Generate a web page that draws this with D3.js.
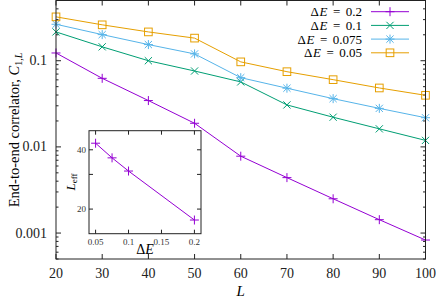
<!DOCTYPE html>
<html>
<head>
<meta charset="utf-8">
<script src="https://cdn.jsdelivr.net/npm/d3@7"></script>
<style>
  body { margin: 0; background: #fff; }
  svg { display: block; font-family: "Liberation Serif", "DejaVu Serif", serif; }
</style>
</head>
<body>
<svg id="canvas" width="436" height="298"></svg>
<script>
let sizes = [20, 30, 40, 50, 60, 70, 80, 90, 100]

let dE02 = [0.123, 0.0625, 0.0345, 0.0188, 0.0078, 0.0044, 0.0025, 0.00143, 0.00083]
let dE01 = [0.216, 0.145, 0.100, 0.076, 0.0568, 0.0307, 0.0221, 0.0162, 0.0119]
let dE0075 = [0.265, 0.201, 0.154, 0.120, 0.0636, 0.048, 0.0363, 0.028, 0.0218]
let dE005 = [0.323, 0.261, 0.216, 0.183, 0.097, 0.0746, 0.0603, 0.0483, 0.0397]

let seriesNames = ['0.2', '0.1', '0.075', '0.05']
let seriesColors = ['#9400d3', '#009e73', '#56b4e9', '#e69f00']
let seriesMarks = ['plus', 'cross', 'star', 'square']
let seriesValues = [dE02, dE01, dE0075, dE005]

let yTicks = [0.001, 0.01, 0.1]
let yTickLabels = ['0.001', '0.01', '0.1']

// inset
let insetDE = [0.05, 0.075, 0.1, 0.2]
let insetLeff = [43.2, 36.4, 31.2, 17.6]
let insetXTicks = [0.05, 0.1, 0.15, 0.2]
let insetXLabels = ['0.05', '0.1', '0.15', '0.2']
let insetYTicks = [20, 30, 40]
let insetYLabels = ['20', '', '40']

let svg = d3.select('#canvas')

let x = d3.scaleLinear().domain([20, 100]).range([56, 425.5])
let y = d3.scaleLog().domain([0.0005, 0.5]).range([259, 0.5])

let drawMarker = (g, type, cx, cy, color, s) => {
    let p = g.append('g').attr('transform', 'translate(' + cx + ',' + cy + ')')
        .attr('stroke', color).attr('stroke-width', 1).attr('fill', 'none')
    if (type === 'plus' || type === 'star') {
        p.append('line').attr('x1', -s).attr('x2', s).attr('y1', 0).attr('y2', 0)
        p.append('line').attr('x1', 0).attr('x2', 0).attr('y1', -s).attr('y2', s)
    }
    if (type === 'cross' || type === 'star') {
        let d = s * 0.8
        p.append('line').attr('x1', -d).attr('x2', d).attr('y1', -d).attr('y2', d)
        p.append('line').attr('x1', -d).attr('x2', d).attr('y1', d).attr('y2', -d)
    }
    if (type === 'square') {
        p.append('rect').attr('x', -s * 0.85).attr('y', -s * 0.85)
            .attr('width', s * 1.7).attr('height', s * 1.7)
    }
}

// ticks of main plot (mirrored, inward)
let frame = svg.append('g').attr('stroke', '#222').attr('stroke-width', 1)
sizes.forEach((v) => {
    frame.append('line').attr('x1', x(v)).attr('x2', x(v)).attr('y1', 259).attr('y2', 254)
    frame.append('line').attr('x1', x(v)).attr('x2', x(v)).attr('y1', 0.5).attr('y2', 5.5)
})
let minor = []
for (let e = -4; e <= -1; e++) {
    for (let m = 1; m <= 9; m++) {
        let v = m * Math.pow(10, e)
        if (v >= 0.0005 && v <= 0.5) minor.push({ v: v, major: m === 1 })
    }
}
minor.forEach((t) => {
    let len = t.major ? 5 : 2.5
    frame.append('line').attr('x1', 56).attr('x2', 56 + len).attr('y1', y(t.v)).attr('y2', y(t.v))
    frame.append('line').attr('x1', 425.5).attr('x2', 425.5 - len).attr('y1', y(t.v)).attr('y2', y(t.v))
})

// data lines
seriesValues.forEach((vals, i) => {
    let line = d3.line().x((d, j) => x(sizes[j])).y((d) => y(d))
    svg.append('path').datum(vals).attr('d', line)
        .attr('fill', 'none').attr('stroke', seriesColors[i]).attr('stroke-width', 1)
    let g = svg.append('g')
    vals.forEach((v, j) => drawMarker(g, seriesMarks[i], x(sizes[j]), y(v), seriesColors[i], 4.5))
})

svg.append('rect').attr('x', 56).attr('y', 0.5).attr('width', 369.5).attr('height', 258.5)
    .attr('fill', 'none').attr('stroke', '#222').attr('stroke-width', 1)

// tick labels
svg.selectAll('.xl').data(sizes).enter().append('text')
    .attr('x', (d) => x(d)).attr('y', 278).attr('text-anchor', 'middle')
    .attr('font-size', 14).attr('fill', '#222').text((d) => d)
svg.selectAll('.yl').data(yTicks).enter().append('text')
    .attr('x', 47).attr('y', (d) => y(d) + 4.5).attr('text-anchor', 'end')
    .attr('font-size', 14).attr('fill', '#222').text((d, i) => yTickLabels[i])

svg.append('text').attr('x', x(60)).attr('y', 296).attr('text-anchor', 'middle')
    .attr('font-size', 15).attr('font-style', 'italic').text('L')

let yl = svg.append('text').attr('transform', 'translate(19,130) rotate(-90)')
    .attr('text-anchor', 'middle').attr('font-size', 14.5)
yl.append('tspan').text('End-to-end correlator, ')
yl.append('tspan').attr('font-style', 'italic').text('C')
yl.append('tspan').attr('font-size', 10).attr('dy', 3).text('1,')
yl.append('tspan').attr('font-size', 10).attr('font-style', 'italic').text('L')

// legend: pieces placed right to left so nothing overlaps
seriesNames.forEach((n, i) => {
    let ly = 11.7 + i * 13.7
    let fs = 13
    let right = 362
    let num = svg.append('text').attr('x', right).attr('y', ly + 4.5)
        .attr('text-anchor', 'end').attr('font-size', fs).text(n)
    right -= num.node().getComputedTextLength() + 5.5
    let eq = svg.append('text').attr('x', right).attr('y', ly + 4.5)
        .attr('text-anchor', 'end').attr('font-size', fs).text('=')
    right -= eq.node().getComputedTextLength() + 5.5
    let e = svg.append('text').attr('x', right).attr('y', ly + 4.5)
        .attr('text-anchor', 'end').attr('font-size', fs).attr('font-style', 'italic').text('E')
    right -= e.node().getComputedTextLength() + 0.5
    svg.append('text').attr('x', right).attr('y', ly + 4.5)
        .attr('text-anchor', 'end').attr('font-size', fs).text('Δ')
    svg.append('line').attr('x1', 371).attr('x2', 409).attr('y1', ly).attr('y2', ly)
        .attr('stroke', seriesColors[i]).attr('stroke-width', 1)
    drawMarker(svg, seriesMarks[i], 390, ly, seriesColors[i], 4.5)
})

// inset
let ix = d3.scaleLinear().domain([0.04, 0.21]).range([89, 201])
let iy = d3.scaleLog().domain([15, 50]).range([233.7, 130.7])

svg.append('rect').attr('x', 89).attr('y', 130.7).attr('width', 112).attr('height', 103)
    .attr('fill', '#fff').attr('stroke', 'none')

let iframe = svg.append('g').attr('stroke', '#222').attr('stroke-width', 1)
insetXTicks.forEach((v) => {
    iframe.append('line').attr('x1', ix(v)).attr('x2', ix(v)).attr('y1', 233.7).attr('y2', 229.7)
    iframe.append('line').attr('x1', ix(v)).attr('x2', ix(v)).attr('y1', 130.7).attr('y2', 134.7)
})
insetYTicks.forEach((v) => {
    iframe.append('line').attr('x1', 89).attr('x2', 93).attr('y1', iy(v)).attr('y2', iy(v))
    iframe.append('line').attr('x1', 201).attr('x2', 197).attr('y1', iy(v)).attr('y2', iy(v))
})

let iline = d3.line().x((d, j) => ix(insetDE[j])).y((d) => iy(d))
svg.append('path').datum(insetLeff).attr('d', iline)
    .attr('fill', 'none').attr('stroke', seriesColors[0]).attr('stroke-width', 1)
let ig = svg.append('g')
insetLeff.forEach((v, j) => drawMarker(ig, 'plus', ix(insetDE[j]), iy(v), seriesColors[0], 4.5))

svg.append('rect').attr('x', 89).attr('y', 130.7).attr('width', 112).attr('height', 103)
    .attr('fill', 'none').attr('stroke', '#222').attr('stroke-width', 1)

svg.selectAll('.ixl').data(insetXTicks).enter().append('text')
    .attr('x', (d) => ix(d)).attr('y', 245).attr('text-anchor', 'middle')
    .attr('font-size', 9).attr('fill', '#333').text((d, i) => insetXLabels[i])
svg.selectAll('.iyl').data(insetYTicks).enter().append('text')
    .attr('x', 86).attr('y', (d) => iy(d) + 3).attr('text-anchor', 'end')
    .attr('font-size', 9).attr('fill', '#333').text((d, i) => insetYLabels[i])

let ixt = svg.append('text').attr('x', 145).attr('y', 254).attr('text-anchor', 'middle').attr('font-size', 14)
ixt.append('tspan').text('Δ')
ixt.append('tspan').attr('font-style', 'italic').text('E')

let iyt = svg.append('text').attr('transform', 'translate(75,182) rotate(-90)')
    .attr('text-anchor', 'middle').attr('font-size', 13)
iyt.append('tspan').attr('font-style', 'italic').text('L')
iyt.append('tspan').attr('font-size', 9).attr('dy', 2).text('eff')
</script>
</body>
</html>
